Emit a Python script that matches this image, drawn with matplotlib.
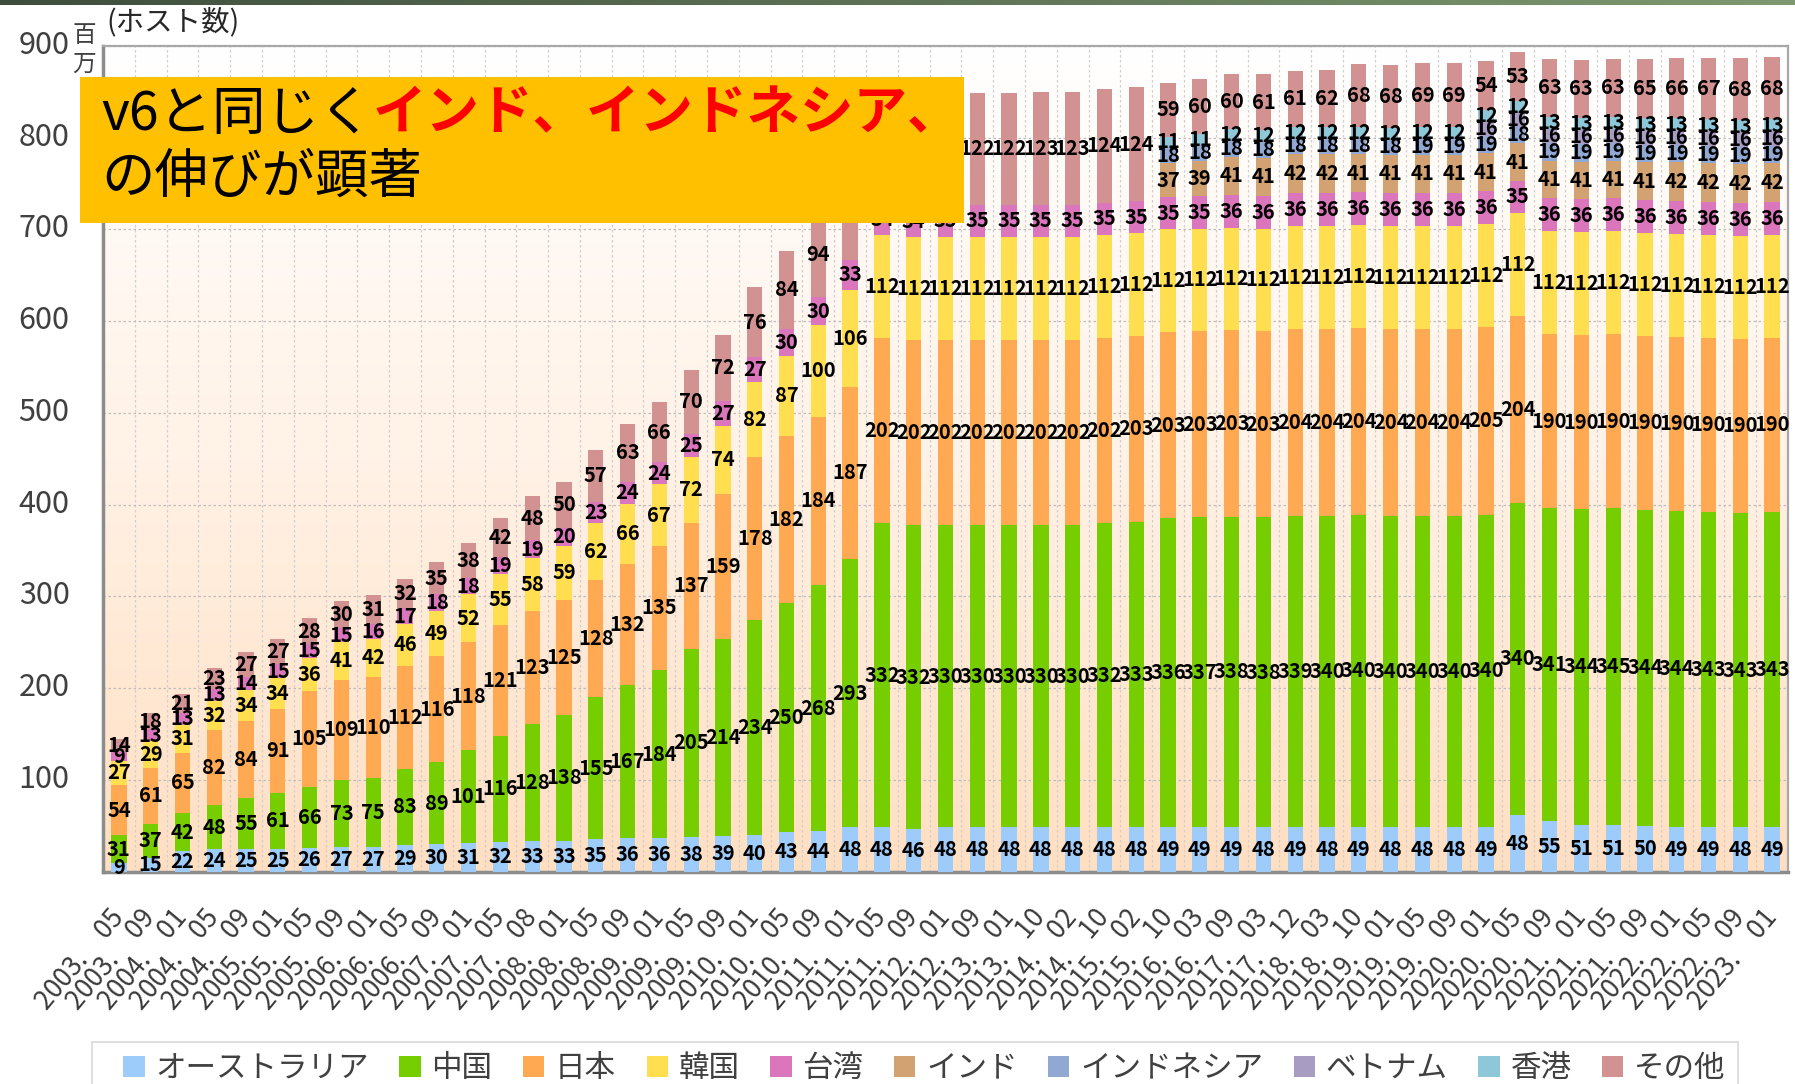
import numpy as np
import matplotlib
matplotlib.use('Agg')
import matplotlib.pyplot as plt
from matplotlib.patches import Rectangle
from matplotlib.colors import LinearSegmentedColormap
from matplotlib.transforms import ScaledTranslation

plt.rcParams['font.family'] = ['Noto Sans CJK JP', 'DejaVu Sans']

# ---------------- data (millions of hosts) ----------------
periods = ["2003.05", "2003.09", "2004.01", "2004.05", "2004.09", "2005.01", "2005.05", "2005.09",
           "2006.01", "2006.05", "2006.09", "2007.01", "2007.05", "2007.08", "2008.01", "2008.05",
           "2008.09", "2009.01", "2009.05", "2009.09", "2010.01", "2010.05", "2010.09", "2011.01",
           "2011.05", "2011.09", "2012.01", "2012.09", "2013.01", "2013.10", "2014.02", "2014.10",
           "2015.02", "2015.10", "2016.03", "2016.09", "2017.03", "2017.12", "2018.03", "2018.10",
           "2019.01", "2019.05", "2019.09", "2020.01", "2020.05", "2020.09", "2021.01", "2021.05",
           "2021.09", "2022.01", "2022.05", "2022.09", "2023.01"]

australia = [9, 15, 22, 24, 25, 25, 26, 27, 27, 29, 30, 31, 32, 33, 33, 35, 36, 36, 38, 39, 40, 43, 44, 48,
             48, 46, 48, 48, 48, 48, 48, 48, 48, 49, 49, 49, 48, 49, 48, 49, 48, 48,
             48, 49, 62, 55, 51, 51, 50, 49, 49, 48, 49]
australia_text = {44: "48"}   # label printed on the chart differs from bar height

china = [31, 37, 42, 48, 55, 61, 66, 73, 75, 83, 89, 101, 116, 128, 138, 155, 167, 184, 205, 214, 234, 250, 268, 293,
         332, 332, 330, 330, 330, 330, 330, 332, 333, 336, 337, 338, 338, 339, 340, 340, 340, 340,
         340, 340, 340, 341, 344, 345, 344, 344, 343, 343, 343]

japan = [54, 61, 65, 82, 84, 91, 105, 109, 110, 112, 116, 118, 121, 123, 125, 128, 132, 135, 137, 159, 178, 182, 184, 187,
         202, 202, 202, 202, 202, 202, 202, 202, 203, 203, 203, 203, 203, 204, 204, 204, 204, 204,
         204, 205, 204, 190, 190, 190, 190, 190, 190, 190, 190]

korea = [27, 29, 31, 32, 34, 34, 36, 41, 42, 46, 49, 52, 55, 58, 59, 62, 66, 67, 72, 74, 82, 87, 100, 106,
         112, 112, 112, 112, 112, 112, 112, 112, 112, 112, 112, 112, 112, 112, 112, 112, 112, 112,
         112, 112, 112, 112, 112, 112, 112, 112, 112, 112, 112]

taiwan = [9, 13, 13, 13, 14, 15, 15, 15, 16, 17, 18, 18, 19, 19, 20, 23, 24, 24, 25, 27, 27, 30, 30, 33,
          34, 34, 35, 35, 35, 35, 35, 35, 35, 35, 35, 36, 36, 36, 36, 36, 36, 36,
          36, 36, 35, 36, 36, 36, 36, 36, 36, 36, 36]

india = [0] * 33 + [37, 39, 41, 41, 42, 42, 41, 41, 41, 41, 41, 41, 41, 41, 41, 41, 42, 42, 42, 42]

indonesia = [0] * 33 + [18, 18, 18, 18, 18, 18, 18, 18, 19, 19, 19, 18, 19, 19, 19, 19, 19, 19, 19, 19]

vietnam = [0] * 43 + [16, 16, 16, 16, 16, 16, 16, 16, 16, 16]

hongkong = [0] * 33 + [11, 11, 12, 12, 12, 12, 12, 12, 12, 12, 12, 12, 13, 13, 13, 13, 13, 13, 13, 13]

other = [14, 18, 21, 23, 27, 27, 28, 30, 31, 32, 35, 38, 42, 48, 50, 57, 63, 66, 70, 72, 76, 84, 94, 104,
         117, 119, 121, 122, 122, 123, 123, 124, 124,
         59, 60, 60, 61, 61, 62, 68, 68, 69, 69, 54, 53, 63, 63, 63, 65, 66, 67, 68, 68]

series_names = ["オーストラリア", "中国", "日本", "韓国", "台湾", "インド", "インドネシア", "ベトナム", "香港", "その他"]
series_values = [australia, china, japan, korea, taiwan, india, indonesia, vietnam, hongkong, other]
series_colors = ["#9DCBFA", "#76CE00", "#FFA952", "#FFDE50", "#DC76BC", "#D2A272",
                 "#91A9D2", "#A99CC2", "#8EC7D7", "#D29292"]
label_overrides = {"オーストラリア": australia_text}

yticks = [100, 200, 300, 400, 500, 600, 700, 800, 900]

# ---------------- figure ----------------
W, H = 1795, 1084
fig = plt.figure(figsize=(W / 100, H / 100), dpi=100)
fig.patch.set_facecolor("white")

# top decorative strip
strip = fig.add_axes([0, 1 - 5 / H, 1, 5 / H])
strip.imshow(np.linspace(0, 1, 256)[None, :], aspect="auto",
             cmap=LinearSegmentedColormap.from_list("s", ["#3E4E3C", "#5E7356", "#7F9870"]))
strip.axis("off")

ax = fig.add_axes([103 / W, 1 - 871.5 / H, (1788 - 103) / W, (871.5 - 46) / H])
n = len(periods)
x = np.arange(n)

# background gradient
bg = LinearSegmentedColormap.from_list("bg", ["#FFDFC2", "#FFF2E6", "#FFFFFF"])
ax.imshow(np.linspace(0, 1, 256)[:, None], extent=[-0.5, n - 0.5, 0, 900], origin="lower",
          aspect="auto", cmap=bg, zorder=0)

bottom = np.zeros(n)
handles = []
for name, vals, col in zip(series_names, series_values, series_colors):
    v = np.array(vals, dtype=float)
    cont = ax.bar(x, v, width=0.48, bottom=bottom, color=col, zorder=3, label=name, linewidth=0)
    handles.append(cont)
    ov = label_overrides.get(name, {})
    labs = [ov.get(i, str(int(val))) if val > 0 else "" for i, val in enumerate(v)]
    ax.bar_label(cont, labels=labs, label_type="center", fontsize=14.5, fontweight="bold",
                 color="black", zorder=5)
    bottom += v

ax.set_xlim(-0.5, n - 0.5)
ax.set_ylim(0, 900)
ax.set_yticks(yticks)
ax.set_yticklabels([str(t) for t in yticks])
ax.set_xticks(x)
ax.set_xticklabels([p.replace(".", ".\u3000") for p in periods], rotation=50, ha="right",
                   va="center", rotation_mode="anchor")
ax.set_xticks(x + 0.5, minor=True)
ax.tick_params(axis="y", length=0, labelsize=22, labelcolor="#404040", pad=24)
ax.tick_params(axis="x", which="both", length=0, labelsize=19, labelcolor="#3A3A3A", pad=30)
for lab in ax.get_yticklabels():
    lab.set_transform(lab.get_transform() + ScaledTranslation(0, 4 / 100, fig.dpi_scale_trans))
ax.yaxis.grid(True, color="#BDBDBD", linestyle=(0, (2, 2)), linewidth=0.9, zorder=1)
ax.xaxis.grid(True, which="minor", color="#CFCFCF", linestyle=(0, (2, 2)), linewidth=0.9, zorder=1)
ax.set_axisbelow(True)

for s in ["left", "bottom"]:
    ax.spines[s].set_color("#8C8C8C")
    ax.spines[s].set_linewidth(2.5)
for s in ["top", "right"]:
    ax.spines[s].set_color("#A8A8A8")
    ax.spines[s].set_linewidth(1.6)

# unit texts
fig.text(106 / W, 1 - 22 / H, "(ホスト数)", fontsize=20.5, va="center", ha="left", color="#262626")
fig.text(84 / W, 1 - 36 / H, "百", fontsize=17, va="center", ha="center", color="#404040")
fig.text(84 / W, 1 - 64 / H, "万", fontsize=17, va="center", ha="center", color="#404040")

# legend (frame drawn separately)
fig.add_artist(Rectangle((92 / W, -0.01), (1738 - 92) / W, 0.01 + (1084 - 1042) / H,
                         transform=fig.transFigure, facecolor="white", edgecolor="#D9D9D9",
                         linewidth=1.2, zorder=1))
leg = fig.legend(handles=handles, labels=series_names, loc="upper left",
                 bbox_to_anchor=(114 / W, 1 - 1044 / H), ncol=10, fontsize=22, frameon=False,
                 handlelength=0.7, handleheight=0.7, handletextpad=0.35, columnspacing=1.0,
                 borderpad=0.3, borderaxespad=0, labelcolor="#404040")
leg.set_zorder(2)

# callout box
fig.add_artist(Rectangle((80 / W, 1 - 223 / H), (964 - 80) / W, (223 - 77) / H,
                         transform=fig.transFigure, facecolor="#FFC000", edgecolor="none", zorder=10))
t1 = fig.text(101 / W, 1 - 114 / H, "v6と同じく", fontsize=38.5, va="center", ha="left",
              color="black", zorder=11)
fig.canvas.draw()
bb = t1.get_window_extent(fig.canvas.get_renderer())
fig.text(bb.x1 / W, 1 - 114 / H, "インド、インドネシア、", fontsize=38.5, fontweight="bold",
         va="center", ha="left", color="#FF0000", zorder=11)
fig.text(101 / W, 1 - 177 / H, "の伸びが顕著", fontsize=38.5, va="center", ha="left",
         color="black", zorder=11)

fig.savefig("out.png", dpi=100)
